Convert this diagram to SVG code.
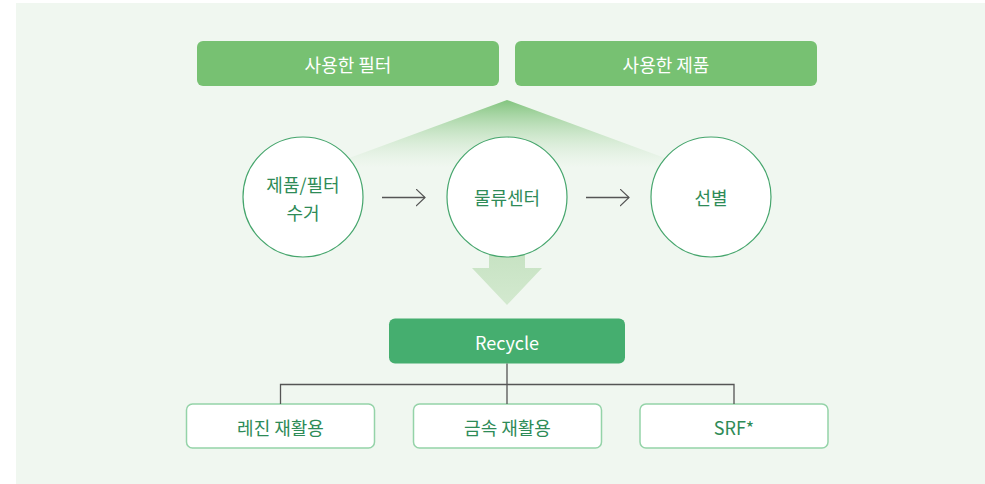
<svg xmlns="http://www.w3.org/2000/svg" width="985" height="484" viewBox="0 0 985 484">
<defs>
<linearGradient id="fan" x1="0" y1="100" x2="0" y2="168" gradientUnits="userSpaceOnUse">
<stop offset="0" stop-color="#82c47e" stop-opacity="1"/>
<stop offset="1" stop-color="#cfe8cc" stop-opacity="0"/>
</linearGradient>
<linearGradient id="down" x1="0" y1="250" x2="0" y2="305" gradientUnits="userSpaceOnUse">
<stop offset="0" stop-color="#c6e2c2"/>
<stop offset="1" stop-color="#d3e9cf"/>
</linearGradient>
<marker id="chev" viewBox="0 0 10 18" refX="9.5" refY="9" markerWidth="10" markerHeight="18" markerUnits="userSpaceOnUse" orient="auto">
<path d="M0.5,0.5 L9.5,9 L0.5,17.5" fill="none" stroke="#555" stroke-width="1.2"/>
</marker>
</defs>
<style>
.txt{font-family:"Noto Sans CJK KR","Noto Sans",sans-serif;dominant-baseline:central;text-anchor:middle}
.top rect{fill:#77c172}
.top text{fill:#fff;font-size:18px}
.circ circle{fill:#fff;stroke:#45a56c;stroke-width:1.2}
.circ text{fill:#2e8b57;font-size:18px}
.leaf rect{fill:#fff;stroke:#94d3a8;stroke-width:1.5}
.leaf text{fill:#2e8b57;font-size:18px}
.conn line,.conn path{stroke:#555;stroke-width:1.3;fill:none}
</style>
<rect x="16" y="3" width="969" height="481" fill="#f0f7f0"/>
<polygon points="507,100 303,175 711,175" fill="url(#fan)"/>
<path d="M489,250 H525 V268 H542 L507,305 L472,268 H489 Z" fill="url(#down)"/>
<g id="used-filter" class="top"><rect x="197" y="41" width="302" height="45" rx="6"/><text class="txt" x="348" y="63.5">사용한 필터</text></g>
<g id="used-product" class="top"><rect x="515" y="41" width="302" height="45" rx="6"/><text class="txt" x="666" y="63.5">사용한 제품</text></g>
<g id="collect" class="circ"><circle cx="303" cy="197" r="60"/><text class="txt" x="303" y="183.5">제품/필터</text><text class="txt" x="303" y="211.5">수거</text></g>
<g id="logistics" class="circ"><circle cx="507" cy="197" r="60"/><text class="txt" x="507" y="197">물류센터</text></g>
<g id="sorting" class="circ"><circle cx="711" cy="197" r="60"/><text class="txt" x="711" y="197">선별</text></g>
<g id="recycle"><rect x="389" y="318.5" width="236" height="45" rx="6" fill="#45ae6f"/><text class="txt" x="507" y="341.5" fill="#fff" font-size="18">Recycle</text></g>
<g id="resin" class="leaf"><rect x="186.5" y="404" width="188" height="44" rx="6"/><text class="txt" x="280.5" y="426.5">레진 재활용</text></g>
<g id="metal" class="leaf"><rect x="413.5" y="404" width="188" height="44" rx="6"/><text class="txt" x="507.5" y="426.5">금속 재활용</text></g>
<g id="srf" class="leaf"><rect x="640" y="404" width="188" height="44" rx="6"/><text class="txt" x="734" y="426.5">SRF*</text></g>
<g id="connectors" class="conn">
<line x1="382" y1="197.5" x2="425" y2="197.5" marker-end="url(#chev)"/>
<line x1="586" y1="197.5" x2="629" y2="197.5" marker-end="url(#chev)"/>
<path d="M507,363.5 V404 M280.5,404 V384.5 H734 V404"/>
</g>
</svg>
